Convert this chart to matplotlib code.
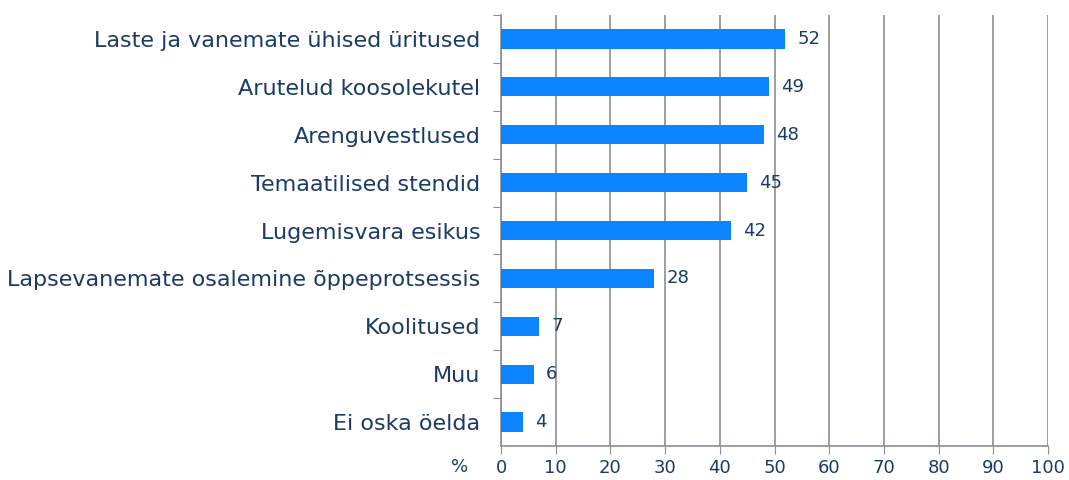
import matplotlib
matplotlib.use("Agg")
import matplotlib.pyplot as plt

categories = [
    "Laste ja vanemate ühised üritused",
    "Arutelud koosolekutel",
    "Arenguvestlused",
    "Temaatilised stendid",
    "Lugemisvara esikus",
    "Lapsevanemate osalemine õppeprotsessis",
    "Koolitused",
    "Muu",
    "Ei oska öelda",
]
values = [52, 49, 48, 45, 42, 28, 7, 6, 4]
xticks = [0, 10, 20, 30, 40, 50, 60, 70, 80, 90, 100]

bar_color = "#0A84FF"
text_color = "#1B3A66"
grid_color = "#8C8C9A"

fig = plt.figure(figsize=(10.69, 4.8), dpi=100)
ax = fig.add_axes([0.4687, 0.0708, 0.9804 - 0.4687, 0.96875 - 0.0708])

pos = list(range(len(categories)))[::-1]
ax.barh(pos, values, height=0.4, color=bar_color, zorder=3)
for p, v in zip(pos, values):
    ax.text(v + 2.2, p, str(v), va="center", ha="left", fontsize=13, color=text_color)

ax.set_xlim(0, 100)
ax.set_ylim(-0.5, len(categories) - 0.5)
ax.set_xticks(xticks)
ax.set_yticks([p + 0.5 for p in range(len(categories))], minor=False)
ax.set_yticklabels([])
ax.set_yticks(pos, minor=True)
ax.set_yticklabels(categories, minor=True)
ax.tick_params(axis="y", which="minor", length=0, labelsize=16, labelcolor=text_color, pad=15)
ax.tick_params(axis="y", which="major", length=6, color=grid_color, direction="out")
ax.tick_params(axis="x", length=6, color=grid_color, labelsize=13, labelcolor=text_color, pad=3)

ax.grid(axis="x", color=grid_color, linewidth=1.2, zorder=0)
for s in ["top", "right"]:
    ax.spines[s].set_visible(False)
for s in ["left", "bottom"]:
    ax.spines[s].set_color(grid_color)
    ax.spines[s].set_linewidth(1.2)

fig.text(460 / 1069, 1 - 467 / 480, "%", fontsize=13, color=text_color, ha="center", va="center")

fig.savefig("out.png", dpi=100)
